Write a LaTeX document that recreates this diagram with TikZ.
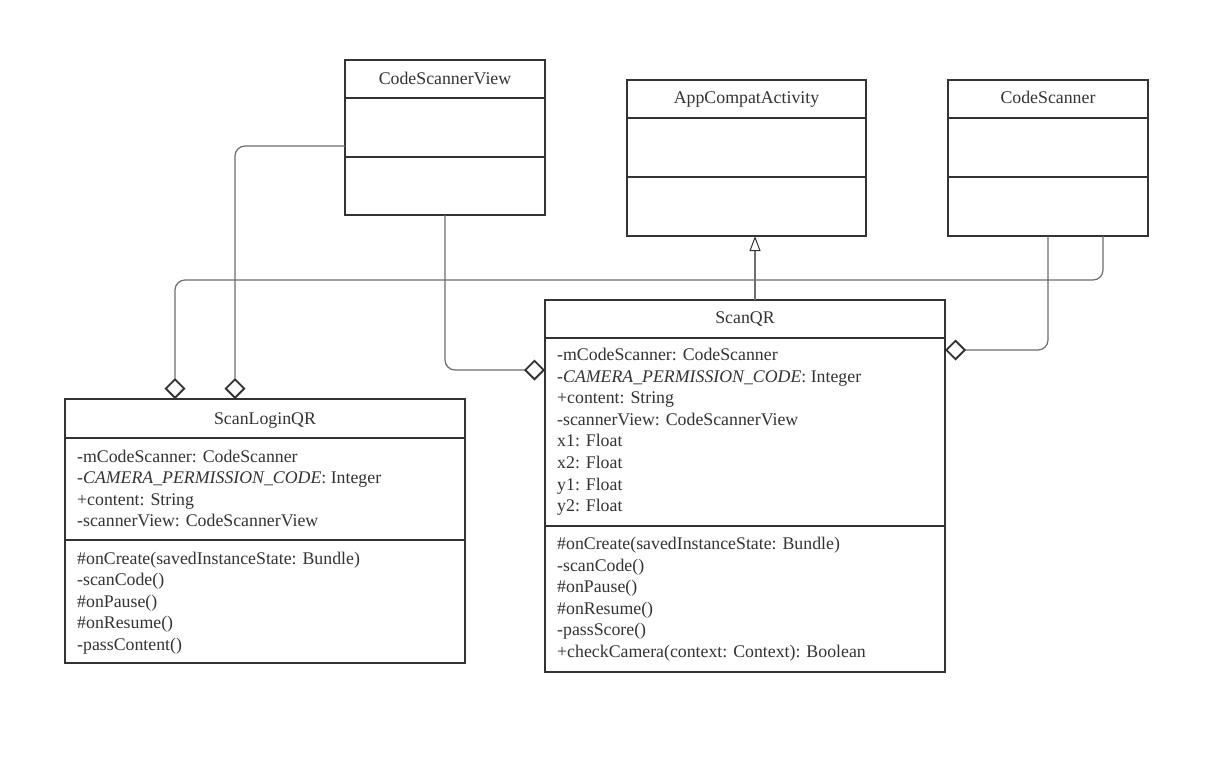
\documentclass[tikz,border=0pt]{standalone}
\usepackage{fontspec}
\setmainfont{Liberation Serif}
\usetikzlibrary{arrows.meta}
\definecolor{ink}{HTML}{333333}
\definecolor{wire}{HTML}{6E6E6E}
\begin{document}
\begin{tikzpicture}[x=1pt,y=-1pt,
  classbox/.style={draw=ink, line width=2pt, fill=white, inner sep=0pt, outer sep=0pt},
  boxline/.style={draw=ink, line width=2pt},
  title/.style={anchor=base, text=ink, font=\fontsize{17.8}{21.6}\selectfont, inner sep=0pt},
  member/.style={anchor=base west, text=ink, font=\fontsize{17.8}{21.6}\selectfont, inner sep=0pt},
  conn/.style={draw=wire, line width=1.2pt, rounded corners=10pt},
  agg/.style={-{Diamond[color=ink, fill=white, length=21pt, width=21pt, line width=1.8pt]}},
  inherit/.style={-{Triangle[color=ink, fill=white, length=15pt, width=11pt, line width=1pt]}}
]
\fill[white] (0,0) rectangle (1231,761);
\useasboundingbox (0,0) rectangle (1231,761);

% class boxes
\node[classbox, minimum width=200pt, minimum height=155pt] (csv) at (445,137.5) {};
\node[classbox, minimum width=239pt, minimum height=156pt] (aca) at (746.5,158) {};
\node[classbox, minimum width=200pt, minimum height=156pt] (csc) at (1048,158) {};
\node[classbox, minimum width=400pt, minimum height=372pt] (sqr) at (745,486) {};
\node[classbox, minimum width=400pt, minimum height=264pt] (slq) at (265,531) {};

% compartment separators
\draw[boxline] (345,98) -- (545,98);
\draw[boxline] (345,157) -- (545,157);
\draw[boxline] (627,118) -- (866,118);
\draw[boxline] (627,177) -- (866,177);
\draw[boxline] (948,118) -- (1148,118);
\draw[boxline] (948,177) -- (1148,177);
\draw[boxline] (545,338) -- (945,338);
\draw[boxline] (545,526) -- (945,526);
\draw[boxline] (65,438) -- (465,438);
\draw[boxline] (65,540) -- (465,540);

% class names
\node[title] (csvname) at (445,84) {CodeScannerView};
\node[title] (acaname) at (746.5,103) {AppCompatActivity};
\node[title] (cscname) at (1048,103) {CodeScanner};
\node[title] (sqrname) at (745,323) {ScanQR};
\node[title] (slqname) at (265,424) {ScanLoginQR};

% ScanQR members
\foreach \t [count=\i] in {-mCodeScanner: CodeScanner,
    {-\textit{CAMERA\_PERMISSION\_CODE}: Integer},
    +content: String, -scannerView: CodeScannerView,
    x1: Float, x2: Float, y1: Float, y2: Float}
  \node[member] (sqra\i) at (557,{360.5+21.6*(\i-1)}) {\t};
\foreach \t [count=\i] in {\#onCreate(savedInstanceState: Bundle),
    -scanCode(), \#onPause(), \#onResume(), -passScore(),
    +checkCamera(context: Context): Boolean}
  \node[member] (sqrm\i) at (557,{549.5+21.6*(\i-1)}) {\t};

% ScanLoginQR members
\foreach \t [count=\i] in {-mCodeScanner: CodeScanner,
    {-\textit{CAMERA\_PERMISSION\_CODE}: Integer},
    +content: String, -scannerView: CodeScannerView}
  \node[member] (slqa\i) at (77,{462+21.6*(\i-1)}) {\t};
\foreach \t [count=\i] in {\#onCreate(savedInstanceState: Bundle),
    -scanCode(), \#onPause(), \#onResume(), -passContent()}
  \node[member] (slqm\i) at (77,{564+21.6*(\i-1)}) {\t};

% bend points of the long connectors
\coordinate (bendA) at (175,280);
\coordinate (bendB) at (235,146);

% associations
\draw[conn, agg] ([xshift=55pt]csc.south) |- (bendA) -- ([xshift=-90pt]slq.north);
\draw[conn, agg] ([yshift=-8.5pt]csv.west) -- (bendB) -- ([xshift=-30pt]slq.north);
\draw[conn, agg] (csv.south) |- ([yshift=-70pt]sqr.north west);
\draw[conn, agg] (csc.south) |- ([yshift=-50pt]sqr.north east);

% generalisation
\draw[conn, inherit] ([xshift=10pt]sqr.north) -- ([xshift=8.5pt]aca.south);
\end{tikzpicture}
\end{document}
